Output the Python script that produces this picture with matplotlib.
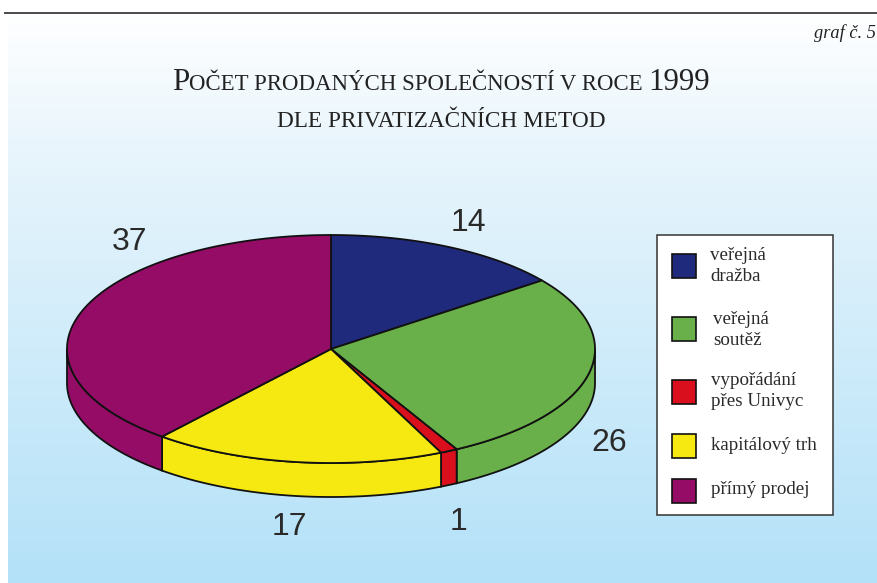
import numpy as np
import matplotlib
matplotlib.use('Agg')
import matplotlib.pyplot as plt
from matplotlib.patches import Polygon, Rectangle

# Data
categories = ['veřejná\ndražba', 'veřejná\nsoutěž', 'vypořádání\npřes Univyc', 'kapitálový trh', 'přímý prodej']
values = [14, 26, 1, 17, 37]
colors = ['#1f2a7c', '#6ab04a', '#d90f1e', '#f6e912', '#950c67']

# Layout, in pixels of the 877x583 picture
W, H = 877, 583
cx, cy, rx, ry, depth = 331, 349, 264, 114, 34
label_pos = [(468, 223), (609, 443), (459, 522), (289, 527), (130, 242)]
swatch_top = [254, 317, 380, 434, 479]
legend_text_x = [710, 713, 711, 711, 711]
legend_text_y = [266, 330, 391, 446, 490]

plt.rcParams['font.family'] = 'Liberation Serif'
fig = plt.figure(figsize=(W / 100, H / 100), dpi=100)
ax = fig.add_axes([0, 0, 1, 1])
ax.set_xlim(0, W)
ax.set_ylim(H, 0)
ax.axis('off')

# Background gradient
ys = np.arange(13, H)
r = np.interp(ys, [13, 150, 583], [255, 232, 179])
g = np.interp(ys, [13, 150, 583], [255, 245, 225])
b = np.interp(ys, [13, 150, 583], [255, 252, 248])
grad = np.stack([r, g, b], axis=1)[:, None, :] / 255
ax.imshow(grad, extent=[8, W, H, 13], aspect='auto', zorder=0)
ax.set_xlim(0, W)
ax.set_ylim(H, 0)
ax.plot([5, W], [13, 13], color='#4a4a4a', lw=1.4, zorder=1)


def rim(a0, a1, dy=0):
    # angles are clockwise from the top of the ellipse
    t = np.radians(np.linspace(a0, a1, 120))
    return np.column_stack([cx + rx * np.sin(t), cy - ry * np.cos(t) + dy])


edges = np.cumsum([0] + values) / sum(values) * 360

# Walls of the front half
for i, v in enumerate(values):
    a0, a1 = max(edges[i], 90), min(edges[i + 1], 270)
    if a1 <= a0:
        continue
    pts = np.vstack([rim(a0, a1), rim(a0, a1, depth)[::-1]])
    ax.add_patch(Polygon(pts, closed=True, fc=colors[i], ec='#111111', lw=1.3, zorder=2))

# Top face
for i, v in enumerate(values):
    pts = np.vstack([[cx, cy], rim(edges[i], edges[i + 1])])
    ax.add_patch(Polygon(pts, closed=True, fc=colors[i], ec='#111111', lw=1.3, zorder=3))

# Value labels
for v, (x, y) in zip(values, label_pos):
    ax.text(x, y, str(v), family='Liberation Sans', fontsize=23, color='#2a2a2a',
            ha='center', va='center', zorder=5)

# Legend
ax.add_patch(Rectangle((656.5, 234.5), 176.5, 280.5, fc='white', ec='#333333', lw=1.1, zorder=4))
for i, name in enumerate(categories):
    ax.add_patch(Rectangle((672, swatch_top[i]), 24, 24, fc=colors[i], ec='#111111', lw=1.2, zorder=5))
    ax.text(legend_text_x[i], legend_text_y[i], name, fontsize=13.7, color='#2a2a2a',
            ha='left', va='center', linespacing=1.38, zorder=5)

ax.text(876, 33.5, 'graf č. 5', fontsize=13.2, style='italic', color='#222222', ha='right', va='center')


def small_caps(parts, x0, x1, baseline):
    # parts are (text, size); squeezed into x0..x1 by scaling all the sizes
    renderer = fig.canvas.get_renderer()
    items = [ax.text(0, baseline, t, fontsize=s, color='#222222', ha='left', va='baseline') for t, s in parts]
    total = sum(it.get_window_extent(renderer).width for it in items)
    k = (x1 - x0) / total
    x = x0
    for it, (t, s) in zip(items, parts):
        it.set_fontsize(s * k)
        it.set_x(x)
        x += it.get_window_extent(renderer).width


small_caps([('P', 27), ('OČET PRODANÝCH SPOLEČNOSTÍ V ROCE ', 20), ('1999', 27)], 172, 711, 90)
small_caps([('DLE PRIVATIZAČNÍCH METOD', 20)], 277, 605, 127)

fig.savefig('out.png', dpi=100)
